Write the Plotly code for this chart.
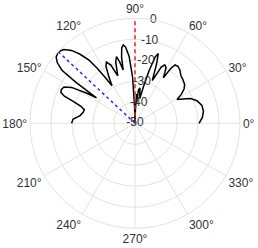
import plotly.graph_objects as go

# beam pattern (angle in degrees, level in dB)
pattern_angle = [0, 5, 10, 15, 20, 24, 27, 29.5, 32, 35, 38, 42, 46, 50, 53, 55.5, 57, 58,
                 59.5, 61, 63, 65, 66.5, 68, 70, 71.5, 73, 75, 77, 79, 80.5, 82, 84, 85.5,
                 87, 88.5, 90, 91.5, 93, 95, 97, 98.5, 100, 101.5, 102.5, 104, 105.5, 107.5,
                 110, 112.5, 115, 117, 119.5, 121.5, 123, 124.5, 126, 128.5, 131,
                 134, 137, 140, 142, 144, 145.3, 146.5, 148, 150.5, 153, 155.5, 157.5, 159,
                 160.5, 162.5, 165, 168, 172, 176, 180]
pattern_db = [-19.5, -17.8, -16.9, -17, -18.6, -21, -24.5, -27, -24, -21.5, -20, -19.2, -18.5,
              -16.8, -16, -16.3, -19, -24.5, -22, -19.5, -18.8, -20.5, -25, -28, -20, -15,
              -17, -24, -32, -38, -36, -33, -34, -40, -36, -45, -50, -42, -28, -18, -13.5,
              -12.3, -13.5, -18, -24, -20, -17, -19.5, -26, -20, -17.8, -19.5, -25, -29,
              -24, -18, -13, -8, -4, -1.2, 0, -1, -3, -7, -16, -28, -23, -15.3, -12,
              -11.4, -11.8, -14, -19, -23, -25, -24.8, -23.6, -20.5, -19.8]

steer_angle = [137, 137]
steer_db = [-50, 0]
ref_angle = [90, 90]
ref_db = [-50, 0]

angle_ticks = list(range(0, 360, 30))
angle_labels = [f"{a}°" for a in angle_ticks]
radial_ticks = [-50, -40, -30, -20, -10, 0]
radial_labels = [str(v) for v in radial_ticks]
radial_label_angle = 80

W, H = 258, 248
cx, cy, R = 135, 123.3, 105   # circle centre / radius in figure pixels
grid = "#e3e3e3"
txt = "#333333"
fs = 12

fig = go.Figure()
fig.add_trace(go.Scatterpolar(r=pattern_db, theta=pattern_angle, mode="lines",
                              line=dict(color="black", width=1.5), showlegend=False))
fig.add_trace(go.Scatterpolar(r=ref_db, theta=ref_angle, mode="lines",
                              line=dict(color="#e8262b", width=1.5, dash="4px,3px"), showlegend=False))
fig.add_trace(go.Scatterpolar(r=steer_db, theta=steer_angle, mode="lines",
                              line=dict(color="#2b2bf0", width=1.5, dash="3px,3px"), showlegend=False))
fig.add_trace(go.Scatterpolar(r=radial_ticks, theta=[radial_label_angle] * len(radial_ticks),
                              mode="text", text=radial_labels, textposition="middle center",
                              textfont=dict(size=fs, color=txt), showlegend=False,
                              hoverinfo="skip", cliponaxis=False))

fig.update_layout(
    width=W, height=H,
    margin=dict(l=0, r=0, t=0, b=0),
    paper_bgcolor="white",
    font=dict(family="Liberation Sans, Arial, sans-serif", size=fs, color=txt),
    polar=dict(
        domain=dict(x=[(cx - R) / W, (cx + R) / W], y=[(H - cy - R) / H, (H - cy + R) / H]),
        bgcolor="white",
        angularaxis=dict(rotation=0, direction="counterclockwise", tickmode="array",
                         tickvals=angle_ticks, ticktext=angle_labels,
                         showline=True, linecolor=grid, gridcolor=grid, ticks=""),
        radialaxis=dict(range=[-50, 0], angle=radial_label_angle, tickmode="array",
                        tickvals=radial_ticks, showticklabels=False, showline=False,
                        gridcolor=grid, ticks=""),
    ),
)
fig.write_html("out.html", config={"displayModeBar": False},
               post_script="document.body.style.margin='0';")
